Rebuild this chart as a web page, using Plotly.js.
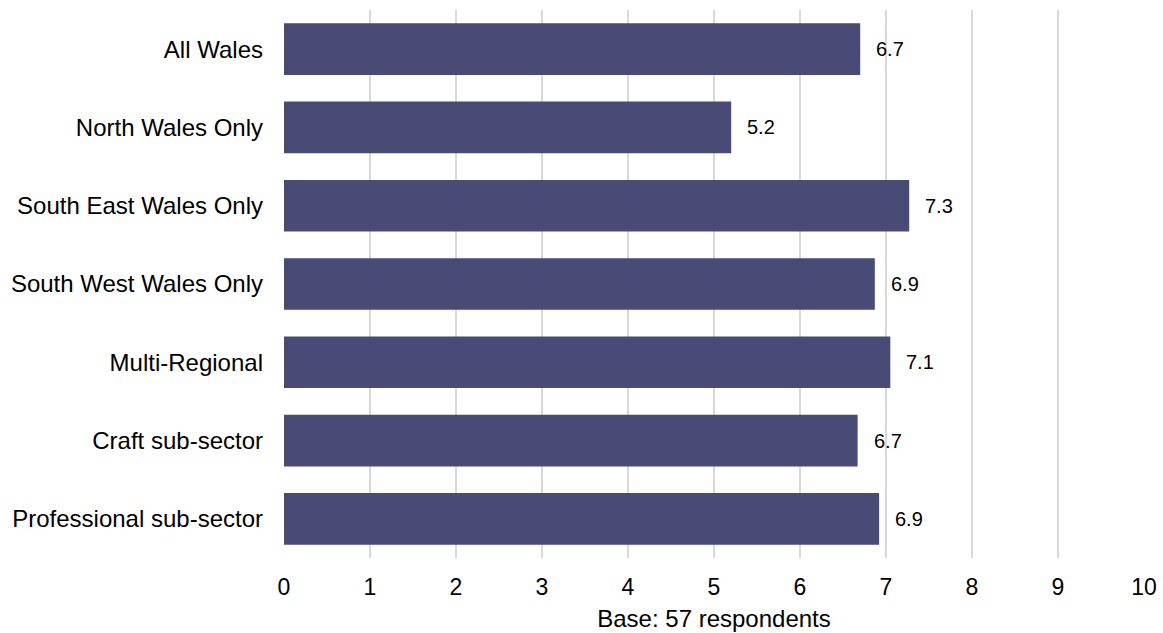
<!DOCTYPE html>
<html>
<head>
<meta charset="utf-8">
<script src="https://cdn.plot.ly/plotly-3.0.1.min.js"></script>
<style>html,body{margin:0;padding:0;background:#fff;}#chart{width:1163px;height:633px;}</style>
</head>
<body>
<div id="chart"></div>
<script>
const categories = ["All Wales","North Wales Only","South East Wales Only","South West Wales Only","Multi-Regional","Craft sub-sector","Professional sub-sector"];
const values = [6.70, 5.20, 7.27, 6.87, 7.05, 6.67, 6.92];
const valueLabels = ["6.7","5.2","7.3","6.9","7.1","6.7","6.9"];
const xTicks = [0,1,2,3,4,5,6,7,8,9,10];
const xTitle = "Base: 57 respondents";

const FONT = "Liberation Sans, Arial, sans-serif";
const trace = {
  type: "bar",
  orientation: "h",
  y: categories,
  x: values,
  marker: {color: "#494A76"},
  hoverinfo: "x+y"
};
const annotations = values.map((v, i) => ({
  x: v, y: categories[i], xref: "x", yref: "y",
  text: valueLabels[i], showarrow: false, xanchor: "left", yanchor: "middle",
  xshift: 14, font: {family: FONT, size: 20, color: "#000"}
}));
const layout = {
  width: 1163, height: 633,
  margin: {l: 284, r: 19, t: 10, b: 75},
  paper_bgcolor: "#fff", plot_bgcolor: "#fff",
  bargap: 0.34,
  showlegend: false,
  font: {family: FONT, color: "#000"},
  xaxis: {
    range: [0, 10], tickvals: xTicks, ticktext: xTicks.map(String),
    showgrid: true, gridcolor: "#d9d9d9", gridwidth: 2, zeroline: false,
    showline: false, ticks: "", tickfont: {family: FONT, size: 23, color: "#000"},
    ticklabelstandoff: 13,
    title: {text: xTitle, font: {family: FONT, size: 24, color: "#000"}, standoff: 11}
  },
  yaxis: {
    type: "category", autorange: "reversed",
    showgrid: false, zeroline: false, showline: false, ticks: "",
    tickfont: {family: FONT, size: 24, color: "#000"},
    ticklabelstandoff: 20
  },
  annotations: annotations
};
Plotly.newPlot("chart", [trace], layout, {displayModeBar: false, staticPlot: true});
</script>
</body>
</html>
